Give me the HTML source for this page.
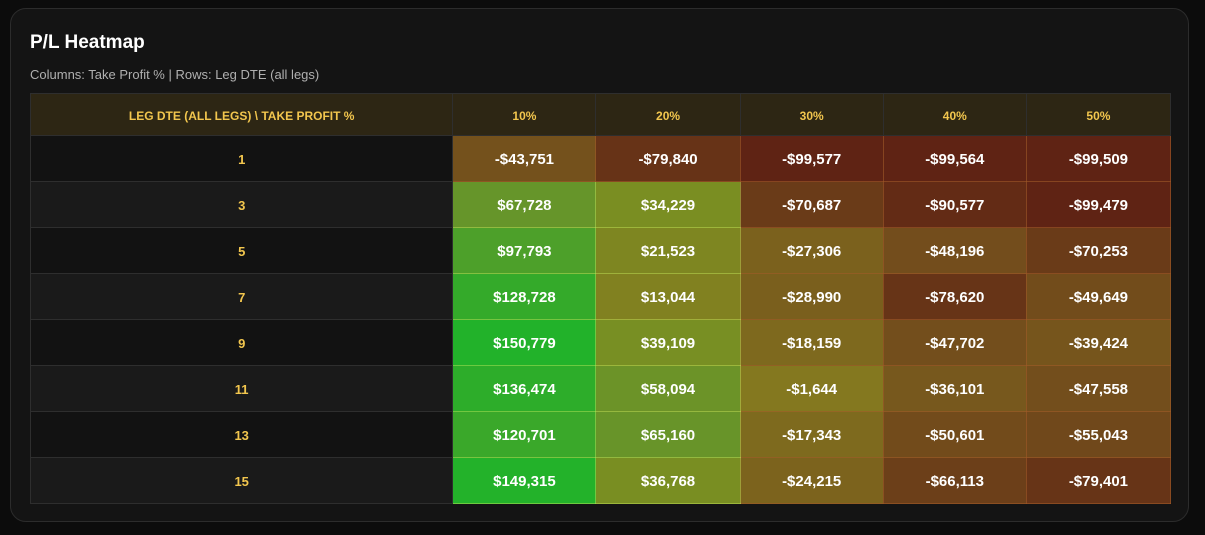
<!DOCTYPE html>
<html><head><meta charset="utf-8"><style>
html,body{margin:0;padding:0;background:#0c0c0c;width:1205px;height:535px;overflow:hidden;font-family:"Liberation Sans",sans-serif}
.card{position:absolute;left:10px;top:8px;width:1177px;height:512px;background:#141414;border:1px solid #2c2c2c;border-radius:16px}
h1{position:absolute;left:19px;top:23px;margin:0;font-size:19px;font-weight:bold;color:#fff}
.sub{position:absolute;left:19px;top:58px;font-size:13px;color:#b0b0b0}
table{position:absolute;left:19px;top:84px;border-collapse:collapse;width:1141px;table-layout:fixed}
td,th{border:1px solid #2e2e2e;text-align:center;padding:0}
th{height:41px;background:#2d2614;color:#f2c64e;font-size:12px;font-weight:bold}
td{height:45px;font-size:15px;font-weight:bold;color:#fff}
td span,th span{position:relative;top:1px}
td.l{color:#f2c64e;font-size:13px;background:#121212}
tr.e td.l{background:#1a1a1a}
</style></head><body>
<div class="card">
<h1>P/L Heatmap</h1>
<div class="sub">Columns: Take Profit % | Rows: Leg DTE (all legs)</div>
<table id="t">
<colgroup><col style="width:422px"><col style="width:143px"><col style="width:144px"><col style="width:143px"><col style="width:143px"><col style="width:144px"></colgroup>
<tr><th><span>LEG DTE (ALL LEGS) \ TAKE PROFIT %</span></th><th><span>10%</span></th><th><span>20%</span></th><th><span>30%</span></th><th><span>40%</span></th><th><span>50%</span></th></tr>
</table>
</div>
<script>
var d=[[1,-43751,-79840,-99577,-99564,-99509],[3,67728,34229,-70687,-90577,-99479],[5,97793,21523,-27306,-48196,-70253],[7,128728,13044,-28990,-78620,-49649],[9,150779,39109,-18159,-47702,-39424],[11,136474,58094,-1644,-36101,-47558],[13,120701,65160,-17343,-50601,-55043],[15,149315,36768,-24215,-66113,-79401]];
var s=[[-100000,95,35,20],[-45000,116,80,28],[0,133,122,31],[35000,122,142,34],[68000,102,149,42],[150000,34,178,42]];
function col(v){for(var i=0;i<s.length-1;i++){if(v<=s[i+1][0]||i==s.length-2){var a=s[i],b=s[i+1],t=Math.max(0,Math.min(1,(v-a[0])/(b[0]-a[0])));return 'rgb('+[1,2,3].map(function(k){return Math.round(a[k]+(b[k]-a[k])*t)}).join(',')+')';}}}
function fmt(v){return (v<0?'-$':'$')+Math.abs(v).toLocaleString('en-US');}
var t=document.getElementById('t'),h='';
d.forEach(function(r,i){h+='<tr'+(i%2?' class="e"':'')+'><td class="l"><span>'+r[0]+'</span></td>';for(var j=1;j<6;j++){var c=col(r[j]);h+='<td style="background:'+c+';border-color:'+(r[j]>0?'rgba(200,230,90,0.45)':'rgba(160,90,40,0.6)')+'"><span>'+fmt(r[j])+'</span></td>';}h+='</tr>';});
t.insertAdjacentHTML('beforeend',h);
</script>
</body></html>
